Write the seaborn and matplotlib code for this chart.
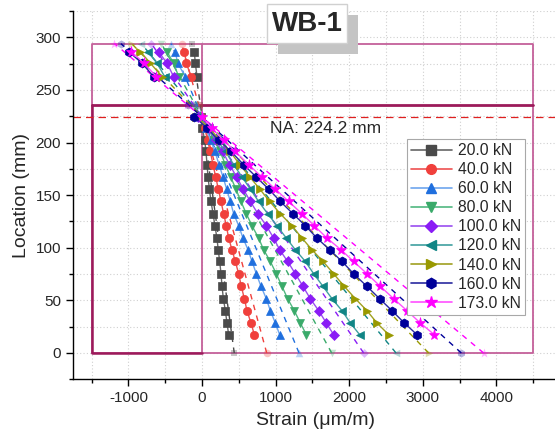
import pandas as pd
import seaborn as sns
import matplotlib.pyplot as plt
from matplotlib.ticker import MultipleLocator
from matplotlib.patches import Rectangle
from matplotlib.lines import Line2D

# Load steps
loads = ["20.0 kN", "40.0 kN", "60.0 kN", "80.0 kN", "100.0 kN",
         "120.0 kN", "140.0 kN", "160.0 kN", "173.0 kN"]

# Sensor locations (mm), lower array and upper array
loc_low = [17.4, 28.5, 40.2, 51.6, 63.3, 75.3, 87.0, 98.1, 109.2, 120.9,
           132.3, 144.0, 155.8, 167.2, 178.9, 191.5, 202.0, 213.7, 224.7]
loc_up = [262.7, 275.4, 286.4]

# Measured strain (um/m), lower array, bottom -> top
s_low = [
    [362, 339, 317, 290, 272, 258, 240, 220, 203, 175, 150, 122, 100, 82, 68, 54, 36, 5, -15],
    [711, 665, 611, 575, 534, 498, 452, 407, 362, 330, 294, 258, 222, 186, 150, 112, 75, 38, -20],
    [1055, 996, 928, 874, 801, 738, 679, 625, 557, 498, 430, 385, 335, 285, 232, 175, 118, 55, -30],
    [1417, 1336, 1254, 1163, 1087, 1009, 928, 837, 769, 679, 602, 529, 460, 390, 318, 245, 165, 85, -40],
    [1788, 1689, 1585, 1471, 1372, 1268, 1163, 1055, 973, 874, 760, 656, 560, 470, 375, 280, 185, 90, -50],
    [2142, 2015, 1902, 1766, 1644, 1517, 1404, 1268, 1145, 1019, 892, 769, 655, 545, 430, 320, 205, 95, -60],
    [2536, 2377, 2241, 2083, 1933, 1788, 1644, 1494, 1358, 1222, 1064, 919, 785, 650, 515, 380, 240, 105, -80],
    [2921, 2749, 2581, 2413, 2241, 2060, 1902, 1734, 1562, 1404, 1236, 1064, 905, 738, 566, 394, 226, 68, -105],
    [3156, 2966, 2785, 2604, 2423, 2241, 2060, 1888, 1698, 1526, 1358, 1177, 996, 815, 634, 452, 294, 135, 0],
]

# Measured strain, upper array, bottom -> top
s_up = [
    [-68, -91, -105],
    [-149, -213, -240],
    [-227, -331, -363],
    [-318, -386, -476],
    [-386, -476, -590],
    [-508, -611, -739],
    [-543, -702, -838],
    [-658, -815, -997],
    [-620, -790, -960],
]

# Linear fit through the neutral axis: strain at bottom, flange and top
fit_loc = [0, 236, 294]
fit_bottom = [438, 879, 1318, 1762, 2196, 2636, 3079, 3523, 3826]
fit_flange = [-23, -46, -69, -93, -116, -139, -162, -185, -201]
fit_top = [-142, -278, -420, -552, -688, -825, -955, -1102, -1190]

na_loc = 224.2

# Cross-section outline
sec_left, sec_right = -1500, 4500
sec_top, sec_flange = 294, 236

marker_cols = ["#4a4a4a", "#f0403c", "#1f6fde", "#3aaa6a", "#8a1cf5",
               "#108585", "#999900", "#000099", "#ff00ff"]
line_cols = ["#666666", "#ee5050", "#6ea6ee", "#50b880", "#9a4ef0",
             "#40a0a0", "#a0a020", "#2a2aa0", "#ff50ff"]
markers = ["s", "o", "^", "v", "D", "<", ">", "h", "*"]
msizes = [5.5, 6, 6, 6, 5, 6, 6, 6.5, 8]

sns.set_theme(style="ticks")
plt.rcParams["font.family"] = ["Liberation Sans", "DejaVu Sans"]
plt.rcParams["axes.unicode_minus"] = False

fig = plt.figure(figsize=(5.55, 4.33), dpi=100)
ax = fig.add_axes([72.7 / 555, (433 - 379.3) / 433, 486.3 / 555, 368.3 / 433])

# section outline
light, dark = "#c4609a", "#9c1a5a"
ax.plot([sec_left, sec_right, sec_right, sec_left, sec_left],
        [0, 0, sec_top, sec_top, 0], color=light, lw=1.3, zorder=1)
ax.plot([0, 0], [0, sec_top], color=light, lw=1.3, zorder=1)
ax.plot([sec_left, sec_right], [sec_flange, sec_flange], color=dark, lw=2, zorder=1)
ax.plot([sec_left, sec_left, 0], [sec_flange, 0, 0], color=dark, lw=1.8, zorder=1)

ax.axhline(na_loc, color="#e02020", lw=0.9, ls=(0, (6, 4)), zorder=1)

handles = []
for i, lab in enumerate(loads):
    fx = [fit_bottom[i], fit_flange[i], fit_top[i]]
    sns.lineplot(x=fx, y=fit_loc, sort=False, estimator=None, color=marker_cols[i],
                 lw=1, linestyle=(0, (4, 4)), ax=ax, zorder=2)
    sns.scatterplot(x=fx, y=fit_loc, marker=markers[i], color=marker_cols[i],
                    s=(msizes[i] * 0.9) ** 2, alpha=0.3, linewidth=0, ax=ax, zorder=2)
    for xs, ys in ((s_low[i], loc_low), (s_up[i], loc_up)):
        sns.lineplot(x=xs, y=ys, sort=False, estimator=None, color=line_cols[i],
                     lw=1, marker=markers[i], markersize=msizes[i],
                     markerfacecolor=marker_cols[i], markeredgecolor=marker_cols[i],
                     markeredgewidth=0.5, ax=ax, zorder=3)
    handles.append(Line2D([], [], color=line_cols[i], lw=1.2, marker=markers[i],
                          markersize=msizes[i] + 1, markerfacecolor=marker_cols[i],
                          markeredgecolor=marker_cols[i], label=lab))

ax.text(930, 213.5, "NA: 224.2 mm", fontsize=12.5, ha="left", va="center", zorder=4)

ax.set_xlim(-1757, 4850)
ax.set_ylim(-25, 325)
ax.xaxis.set_major_locator(MultipleLocator(1000))
ax.xaxis.set_minor_locator(MultipleLocator(500))
ax.yaxis.set_major_locator(MultipleLocator(50))
ax.yaxis.set_minor_locator(MultipleLocator(25))
ax.set_xticks([-1000, 0, 1000, 2000, 3000, 4000])
ax.grid(which="both", color="#d0d0d0", ls=(0, (1, 2)), lw=0.8, zorder=0)
ax.set_axisbelow(True)
ax.tick_params(which="major", direction="out", length=5, width=1, labelsize=11, color="black")
ax.tick_params(which="minor", direction="out", length=3, width=1, color="black")
sns.despine(ax=ax)
for sp in ("left", "bottom"):
    ax.spines[sp].set_color("black")
    ax.spines[sp].set_linewidth(1)

ax.set_xlabel("Strain (\u03bcm/m)", fontsize=14, labelpad=5)
ax.set_ylabel("Location (mm)", fontsize=14, labelpad=4)

leg = ax.legend(handles=handles, loc="upper left", bbox_to_anchor=(0.687, 0.652),
                fontsize=11.3, frameon=True, fancybox=False, framealpha=1,
                edgecolor="#a8a8a8", handlelength=2.6, handletextpad=0.4,
                labelspacing=0.26, borderpad=0.25, borderaxespad=0)
leg.get_frame().set_linewidth(0.8)
leg.set_zorder(10)

# title box with shadow
fig.patches.append(Rectangle((278 / 555, 1 - 54 / 433), 80 / 555, 39 / 433,
                             transform=fig.transFigure, facecolor="#c4c4c4",
                             edgecolor="none", zorder=5))
fig.patches.append(Rectangle((267 / 555, 1 - 43 / 433), 80 / 555, 39 / 433,
                             transform=fig.transFigure, facecolor="white",
                             edgecolor="#d0d0d0", lw=1, zorder=6))
fig.text(307 / 555, 1 - 24 / 433, "WB-1", fontsize=20, fontweight="bold",
         ha="center", va="center", zorder=7)

fig.savefig("out.png", dpi=100)
